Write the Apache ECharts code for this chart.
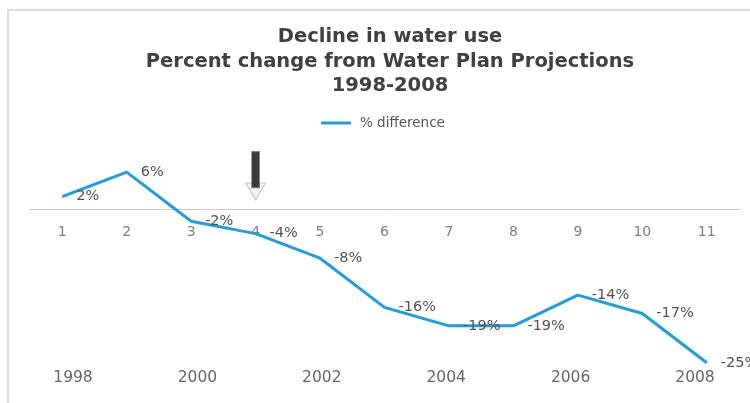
<!DOCTYPE html>
<html>
<head>
<meta charset="utf-8">
<script src="https://cdn.jsdelivr.net/npm/echarts@6/dist/echarts.min.js"></script>
<style>html,body{margin:0;padding:0;background:#fff}#c{width:750px;height:403px}</style>
</head>
<body>
<div id="c"></div>
<script>
const categories = ['1','2','3','4','5','6','7','8','9','10','11'];
const years = ['1998','1999','2000','2001','2002','2003','2004','2005','2006','2007','2008'];
const pctDifference = [2, 6, -2, -4, -8, -16, -19, -19, -14, -17, -25];
const titleLines = ['Decline in water use', 'Percent change from Water Plan Projections', '1998-2008'];
const seriesName = '% difference';
const arrowShaft = { cat: 3, value: 6.4 };
const arrowHead = { cat: 3, value: 2.85 };

const FONT = '"DejaVu Sans", "Noto Sans", sans-serif';
const PLOT_TOP = 147.5, PLOT_BOTTOM = 34.1, ZERO_Y = 209;
const chart = echarts.init(document.getElementById('c'), null, { renderer: 'canvas' });
chart.setOption({
  animation: false,
  backgroundColor: '#ffffff',
  graphic: [{
    type: 'rect', shape: { x: 8, y: 10, width: 800, height: 450 },
    style: { fill: 'none', stroke: '#cfcfcf', lineWidth: 1.5 }, silent: true, z: -1
  }],
  title: {
    text: titleLines.join('\n'),
    left: 385, top: 20, textAlign: 'center',
    textStyle: { fontFamily: FONT, fontSize: 19.5, fontWeight: 'bold', color: '#404040', lineHeight: 24.5, align: 'center' }
  },
  legend: {
    data: [seriesName],
    left: 316, top: 111,
    icon: 'rect', itemWidth: 30, itemHeight: 3,
    textStyle: { fontFamily: FONT, fontSize: 13.5, color: '#555', padding: [0, 0, 0, 4] }
  },
  grid: [
    { left: 30, right: 11, top: PLOT_TOP, bottom: PLOT_BOTTOM },
    { left: 30, right: 11, top: PLOT_TOP, bottom: 403 - ZERO_Y },
    { left: 73, right: 55, top: PLOT_TOP, bottom: 43 }
  ],
  xAxis: [{
    gridIndex: 0, type: 'category', data: categories, boundaryGap: true, show: false
  }, {
    gridIndex: 1, type: 'category', data: categories, boundaryGap: true,
    axisLine: { onZero: false, lineStyle: { color: '#c8c8c8', width: 1 } },
    axisTick: { show: false },
    axisLabel: { margin: 16, fontFamily: FONT, fontSize: 14, color: '#808080' }
  }, {
    gridIndex: 2, type: 'category', data: years, boundaryGap: false,
    axisLine: { show: false }, axisTick: { show: false },
    axisLabel: { interval: 1, margin: 10, fontFamily: FONT, fontSize: 15.5, color: '#666' }
  }],
  yAxis: [
    { gridIndex: 0, type: 'value', min: -26, max: 10, show: false, splitLine: { show: false } },
    { gridIndex: 1, type: 'value', min: 0, max: 10, show: false, splitLine: { show: false } },
    { gridIndex: 2, type: 'value', min: 0, max: 10, show: false, splitLine: { show: false } }
  ],
  series: [{
    name: seriesName, type: 'line', data: pctDifference, xAxisIndex: 0, yAxisIndex: 0,
    symbol: 'circle', symbolSize: 0, showSymbol: true,
    lineStyle: { color: '#1d9de3', width: 3 },
    itemStyle: { color: '#1d9de3' },
    label: {
      show: true, position: 'right', distance: 14,
      formatter: p => p.value + '%',
      fontFamily: FONT, fontSize: 14.5, color: '#5a5050'
    },
    markPoint: {
      silent: true,
      label: { show: false },
      data: [
        { coord: [arrowHead.cat, arrowHead.value], symbol: 'path://M0,0 L20,0 L10,17 Z', symbolSize: [20, 17],
          itemStyle: { color: '#f2f2f2', borderColor: '#c4c4c4', borderWidth: 1 } },
        { coord: [arrowShaft.cat, arrowShaft.value], symbol: 'rect', symbolSize: [8, 36],
          itemStyle: { color: '#3a3a3a', borderColor: '#777', borderWidth: 0.5 } }
      ]
    }
  }]
});
</script>
</body>
</html>
